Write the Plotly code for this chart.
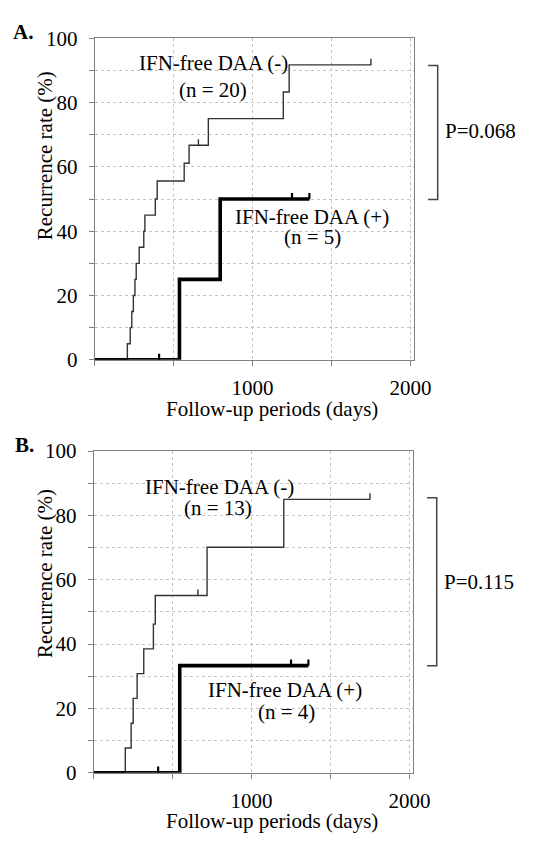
import numpy as np
import plotly.graph_objects as go

W, H = 533, 843

# panel A: IFN-free DAA (-), n = 20
a_neg_days = [0, 207, 225, 235, 245, 255, 263, 282, 311, 318, 384, 396, 567, 598, 720, 1195, 1232, 1750]
a_neg_rate = [0, 5, 10, 15, 20, 25, 30, 35, 40, 45, 50, 55.6, 61.1, 66.7, 75, 83.3, 91.7, 91.7]
a_neg_censor = [657, 1750]
# panel A: IFN-free DAA (+), n = 5
a_pos_days = [0, 537, 795, 1360]
a_pos_rate = [0, 25, 50, 50]
a_pos_censor = [408, 1250, 1360]

# panel B: IFN-free DAA (-), n = 13
b_neg_days = [0, 200, 237, 250, 275, 317, 378, 390, 718, 1204, 1750]
b_neg_rate = [0, 7.7, 15.4, 23.1, 30.8, 38.5, 46.2, 55.1, 70.1, 85, 85]
b_neg_censor = [660, 1750]
# panel B: IFN-free DAA (+), n = 4
b_pos_days = [0, 545, 1360]
b_pos_rate = [0, 33.3, 33.3]
b_pos_censor = [408, 1250, 1360]

x_ticks = [0, 500, 1000, 1500, 2000]
x_text = ["", "", "1000", "", "2000"]
y_ticks = list(range(0, 101, 10))
y_text = [str(v) if v % 20 == 0 else "" for v in y_ticks]

FONT = "Liberation Serif, Times New Roman, serif"
FS = 21


def px(x):
    return x / W


def py(y):
    return 1 - y / H


def step_at(days, rate, t):
    # value of the step curve at time t
    i = np.searchsorted(days, t, side="right") - 1
    return [rate[k] for k in i]


fig = go.Figure()

panels = [
    # (xaxis, yaxis, neg, pos, x-dom px, y-dom px)
    ("x", "y", (a_neg_days, a_neg_rate, a_neg_censor), (a_pos_days, a_pos_rate, a_pos_censor),
     (98, 428), (27, 358)),
    ("x2", "y2", (b_neg_days, b_neg_rate, b_neg_censor), (b_pos_days, b_pos_rate, b_pos_censor),
     (97, 427), (452, 783)),
]

for xa, ya, neg, pos, xd, yd in panels:
    for (days, rate, cens), col, lw in [(neg, "#333333", 1.4), (pos, "black", 3.6)]:
        fig.add_trace(go.Scatter(x=days, y=rate, mode="lines", line_shape="hv",
                                 line=dict(color=col, width=lw),
                                 xaxis=xa, yaxis=ya, showlegend=False))
        # censor marks: short ticks pointing up from the curve
        fig.add_trace(go.Scatter(x=cens, y=step_at(days, rate, cens), mode="markers",
                                 marker=dict(size=1, color=col),
                                 error_y=dict(type="constant", value=1.9, valueminus=0,
                                              symmetric=False, width=0, color=col,
                                              thickness=2.2 if lw > 2 else 1.4),
                                 xaxis=xa, yaxis=ya, showlegend=False))

axis_common = dict(showline=True, linecolor="#808080", linewidth=1.2, mirror=True,
                   showgrid=True, gridcolor="#c4c4c4", griddash="dot", gridwidth=1,
                   zeroline=False, ticks="outside", ticklen=5, tickcolor="#808080",
                   tickfont=dict(family=FONT, size=FS, color="black"))

layout_axes = {}
for i, (xa, ya, neg, pos, xd, yd) in enumerate(panels):
    xname = "xaxis" if i == 0 else "xaxis2"
    yname = "yaxis" if i == 0 else "yaxis2"
    layout_axes[xname] = dict(axis_common, domain=[px(xd[0]), px(xd[1])], range=[0, 2020],
                              tickvals=x_ticks, ticktext=x_text, ticklabelstandoff=4,
                              anchor=ya)
    layout_axes[yname] = dict(axis_common, domain=[py(yd[1]), py(yd[0])], range=[0, 100],
                              tickvals=y_ticks, ticktext=y_text, ticklabelstandoff=7,
                              anchor=xa)

fig.update_layout(width=W, height=H, autosize=False, margin=dict(l=0, r=0, t=0, b=0),
                  plot_bgcolor="white", paper_bgcolor="white",
                  font=dict(family=FONT, size=FS, color="black"), **layout_axes)

# text labels (positions in pixels)
labels = [
    ("<b>A.</b>", 24, 21, 0),
    ("<b>B.</b>", 25, 446, 0),
    ("Recurrence rate (%)", 46, 148, -90),
    ("Recurrence rate (%)", 46, 578, -90),
    ("Follow-up periods (days)", 281, 409, 0),
    ("Follow-up periods (days)", 281, 833, 0),
    ("IFN-free DAA (-)", 221, 52, 0),
    ("(n = 20)", 220, 80, 0),
    ("IFN-free DAA (+)", 323, 211, 0),
    ("(n = 5)", 323, 232, 0),
    ("IFN-free DAA (-)", 227, 489, 0),
    ("(n = 13)", 226, 511, 0),
    ("IFN-free DAA (+)", 295, 698, 0),
    ("(n = 4)", 297, 720, 0),
    ("P=0.068", 497, 123, 0),
    ("P=0.115", 496, 587, 0),
]
for txt, x, y, ang in labels:
    fig.add_annotation(text=txt, x=px(x), y=py(y), xref="paper", yref="paper",
                       showarrow=False, textangle=ang, xanchor="center", yanchor="middle",
                       font=dict(family=FONT, size=FS, color="black"))

# brackets next to p-values
for x0, x1, y0, y1 in [(443, 453, 55, 193), (442, 452, 500, 673)]:
    fig.add_shape(type="path", xref="paper", yref="paper",
                  path=f"M {px(x0)},{py(y0)} L {px(x1)},{py(y0)} L {px(x1)},{py(y1)} L {px(x0)},{py(y1)}",
                  line=dict(color="#444444", width=1.5))

# no body margin, so the 533x843 figure fills the window exactly
fig.write_html("out.html", config={"displayModeBar": False},
               post_script="document.body.style.margin='0';document.body.style.overflow='hidden';")
